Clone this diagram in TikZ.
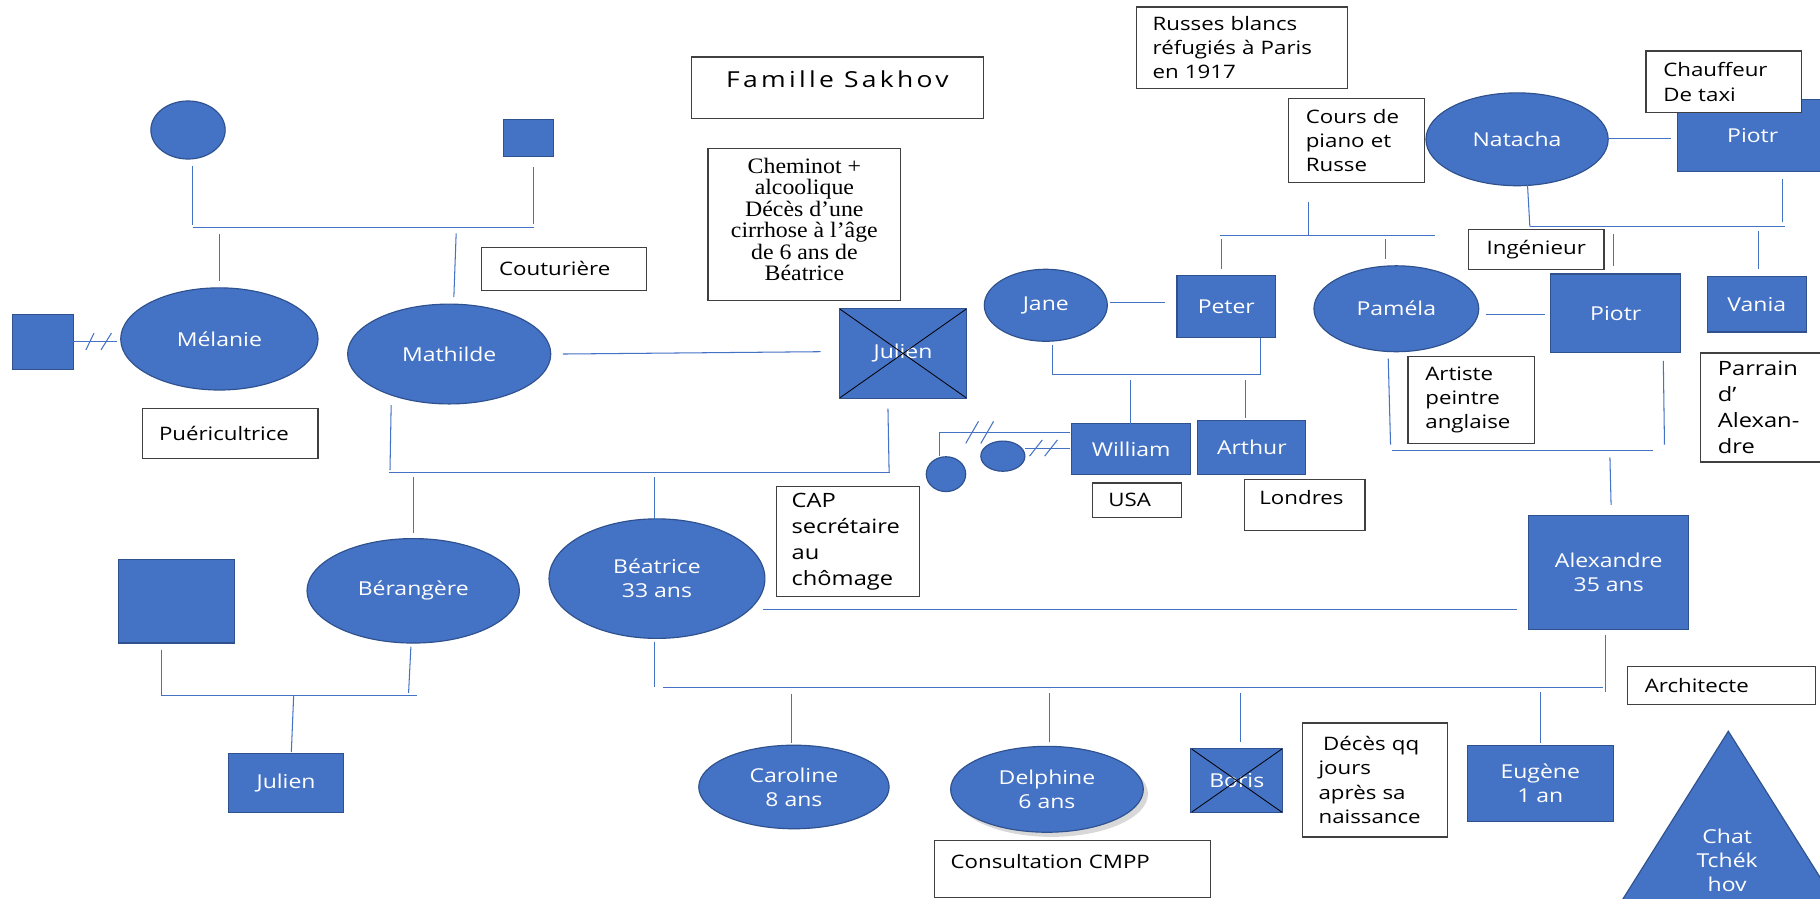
\documentclass[tikz,border=0pt]{standalone}
\usepackage{fontspec}
\setmainfont{Open Sans}[FakeStretch=1.2]
\newfontfamily\serifx{Liberation Serif}[FakeStretch=1.08]
\newfontfamily\titlefx{Open Sans}[FakeStretch=1.2,LetterSpace=15]
\usetikzlibrary{shapes.geometric,shadows}
\definecolor{pblue}{HTML}{4472C4}
\definecolor{pdark}{HTML}{2F528F}
\definecolor{lblue}{HTML}{4472C4}
\definecolor{bgray}{HTML}{404040}
\begin{document}
\begin{tikzpicture}[x=1pt,y=-1pt,
  lab/.style={font=\fontsize{16.5}{20.5}\selectfont, text=white, align=center},
  fem/.style 2 args={ellipse, fill=pblue, draw=pdark, line width=1pt, lab, inner sep=0pt, minimum width=#1pt, minimum height=#2pt},
  male/.style 2 args={rectangle, fill=pblue, draw=pdark, line width=1pt, lab, inner sep=0pt, minimum width=#1pt, minimum height=#2pt},
  note/.style n args={3}{rectangle, draw=bgray, line width=1.1pt, fill=white, text=black, font=\fontsize{16}{21}\selectfont, align=left, inner xsep=#3pt, inner ysep=0pt, text width=#1pt, minimum height=#2pt},
  bignote/.style={font=\fontsize{17}{22.5}\selectfont},
  link/.style={draw=lblue, line width=0.9pt},
  cross/.style={draw=black, line width=0.7pt, shorten >=1.5pt, shorten <=1.5pt}
]
\useasboundingbox (0,0) rectangle (1568,774);
\fill[white] (0,0) rectangle (1568,774);

% ---------- persons ----------
\node[fem={64}{50}] (gm) at (162,112) {};
\node[male={43}{32}] (gp) at (455.5,119) {};
\node[male={52}{47}] (melx) at (37,294.5) {};
\node[fem={170}{88}] (mel) at (189,292) {Mélanie};
\node[fem={175}{86}] (mat) at (387,305) {Mathilde};
\node[male={110}{77}] (jul) at (778,304.5) {Julien};
\draw[cross] (jul.north west) -- (jul.south east);
\draw[cross] (jul.north east) -- (jul.south west);
\node[fem={183}{90}] (ber) at (356,509) {Bérangère};
\node[fem={186}{103}] (bea) at (566,498.5) {Béatrice\\33 ans};
\node[male={100}{72}] (berx) at (152,518) {};
\node[male={99}{51}] (jul2) at (246.5,674.5) {Julien};

\node[fem={106}{62}] (jane) at (901,263) {Jane};
\node[male={85}{54}] (peter) at (1056.5,264) {Peter};
\node[fem={142}{74}] (pam) at (1203,266) {Paméla};
\node[male={112}{68}] (pt2) at (1392,270) {Piotr};
\node[fem={157}{80}] (nat) at (1307,120) {Natacha};
\node[male={130}{62}] (pt1) at (1510,117) {Piotr};
\node[male={85}{48}] (vania) at (1513.5,262) {Vania};
\node[male={103}{44}] (will) at (974.5,387) {William};
\node[male={93}{47}] (arth) at (1078.5,385.5) {Arthur};
\node[fem={34}{30}] (c1) at (815,408.5) {};
\node[fem={38}{26}] (c2) at (864,393) {};
\node[male={138}{98}] (alex) at (1386,493) {Alexandre\\35 ans};

\node[fem={164}{72}] (car) at (684,678) {Caroline\\8 ans};
\node[fem={166}{74}, drop shadow={opacity=0.3, shadow xshift=4pt, shadow yshift=-4pt}] (del) at (902,680) {Delphine\\6 ans};
\node[male={79}{55}] (bor) at (1065.5,672.5) {Boris};
\draw[cross] (bor.north west) -- (bor.south east);
\draw[cross] (bor.north east) -- (bor.south west);
\node[male={126}{66}] (eug) at (1327,675) {Eugène\\1 an};
\filldraw[fill=pblue, draw=pdark, line width=1pt] (1489,630) -- (1396,778) -- (1582,778) -- cycle;
\node[lab] (chat) at (1488,741) {Chat\\Tchék\\hov};

% ---------- notes ----------
\node[rectangle, draw=bgray, line width=1.1pt, fill=white, minimum width=251pt, minimum height=53pt, inner sep=0pt,
      font=\titlefx\fontsize{19}{22}\selectfont, text height=14pt, text depth=15pt] (title) at (721.5,75.5) {Famille Sakhov};
\node[note={112}{37}{15}] (cout) at (486,231.5) {Couturière};
\node[note={123}{43}{14}] (puer) at (198.5,373.5) {Puéricultrice};
\node[rectangle, draw=bgray, line width=1.1pt, fill=white, minimum width=166pt, minimum height=131pt] (chem) at (693,193.5) {};
\node[align=center, inner sep=0pt, font=\serifx\fontsize{19}{18.5}\selectfont] (chemtext) at (693,189)
  {Cheminot +\\alcoolique\\Décès d’une\\cirrhose à l’âge\\de 6 ans de\\Béatrice};
\node[note={154}{70}{14}] (russ) at (1070,41) {Russes blancs\\réfugiés à Paris\\en 1917};
\node[note={87}{72}{15}] (cours) at (1168.5,121) {Cours de\\piano et\\Russe};
\node[note={104}{53}{15}] (chauf) at (1485,70.5) {Chauffeur\\De taxi};
\node[note={89}{34}{14}, align=center] (ing) at (1323.5,215) {Ingénieur};
\node[note={79}{75}{15}] (art) at (1267.5,344.5) {Artiste\\peintre\\anglaise};
\node[note={80}{94}{15}, bignote] (parr) at (1520,351) {Parrain\\d’\\Alexan-\\dre};
\node[note={49}{30}{14}] (usa) at (979.5,431) {USA};
\node[note={78}{44}{13}, text height=12pt, text depth=13pt] (lond) at (1124,435) {Londres};
\node[note={97}{95}{13}, bignote] (cap) at (730.5,466.5) {CAP\\secrétaire\\au\\chômage};
\node[note={132}{33}{15}] (arch) at (1483,590.5) {Architecte};
\node[note={97}{98}{14}] (deces) at (1184.5,672) {\hspace{4pt}Décès qq\\jours\\après sa\\naissance};
\node[note={210}{49}{14}, text height=12pt, text depth=13pt] (cmpp) at (924,748.5) {Consultation CMPP};

% ---------- connectors ----------
% grandparents -> Mélanie, Mathilde
\draw[link] (166,143) -- (166,194);
\draw[link] (460,144) -- (460,193);
\coordinate (bar1l) at (166,196); \coordinate (bar1r) at (460,196);
\draw[link] (bar1l) -- (bar1r);
\draw[link] (189,202) -- (189,242);
\draw[link] (393,201) -- (391,256);
% Mélanie divorced
\draw[link] (63,294) -- (101,294);
\draw[link] (74,301.5) -- (81,287);
\draw[link] (87,301.5) -- (96,287);
% Mathilde - Julien
\draw[link] (485,305) -- (707,303);
\draw[link] (337,349) -- (336,405);
\draw[link] (765,352) -- (766,407);
\coordinate (bar2l) at (335,407); \coordinate (bar2r) at (767,407);
\draw[link] (bar2l) -- (bar2r);
\draw[link] (356,411) -- (356,459);
\draw[link] (564,411) -- (564,447);
% Bérangère
\draw[link] (139,560) -- (139,599);
\draw[link] (354,557) -- (352,597);
\coordinate (bar3l) at (139,599); \coordinate (bar3r) at (359,599);
\draw[link] (bar3l) -- (bar3r);
\draw[link] (253,599) -- (251,648);
% Béatrice - Alexandre
\draw[link] (657,525) -- (1307,525);
\draw[link] (564,553) -- (564,592);
\coordinate (bar4l) at (571,592); \coordinate (bar4r) at (1381,592);
\draw[link] (bar4l) -- (bar4r);
\draw[link] (1383,547) -- (1383,596);
\draw[link] (682,598) -- (682,640);
\draw[link] (904,597) -- (904,639);
\draw[link] (1069,597) -- (1069,639);
\draw[link] (1327,596) -- (1327,640);
% Jane - Peter
\draw[link] (956,261) -- (1004,261);
\draw[link] (907,297) -- (907,323) -- (1086,323) -- (1086,291);
\draw[link] (974,327) -- (974,365);
\draw[link] (1073,327) -- (1073,360);
% parents of Peter and Paméla
\draw[link] (1127,174) -- (1127,203);
\coordinate (bar5l) at (1051,203); \coordinate (bar5r) at (1236,203);
\draw[link] (bar5l) -- (bar5r);
\draw[link] (1052,206) -- (1052,232);
\draw[link] (1194,206) -- (1194,223);
% Natacha - Piotr
\draw[link] (1385,119) -- (1440,119);
\draw[link] (1316,159) -- (1318,195);
\draw[link] (1536,154) -- (1536,191);
\coordinate (bar6l) at (1318,195); \coordinate (bar6r) at (1538,195);
\draw[link] (bar6l) -- (bar6r);
\draw[link] (1390,202) -- (1390,229);
\draw[link] (1515,199) -- (1515,232);
% Paméla - Piotr
\draw[link] (1280,271) -- (1331,271);
\draw[link] (1196,309) -- (1198,383);
\draw[link] (1433,311) -- (1434,383);
\coordinate (bar7l) at (1199,388); \coordinate (bar7r) at (1424,388);
\draw[link] (bar7l) -- (bar7r);
\draw[link] (1387,394) -- (1388,435);
% William's partners
\draw[link] (809,393) -- (809,373) -- (922,373);
\draw[link] (832,382) -- (843,363);
\draw[link] (845,382) -- (856,363);
\draw[link] (883,386) -- (922,386);
\draw[link] (887,393) -- (898,379);
\draw[link] (900,393) -- (911,379);
\end{tikzpicture}
\end{document}
